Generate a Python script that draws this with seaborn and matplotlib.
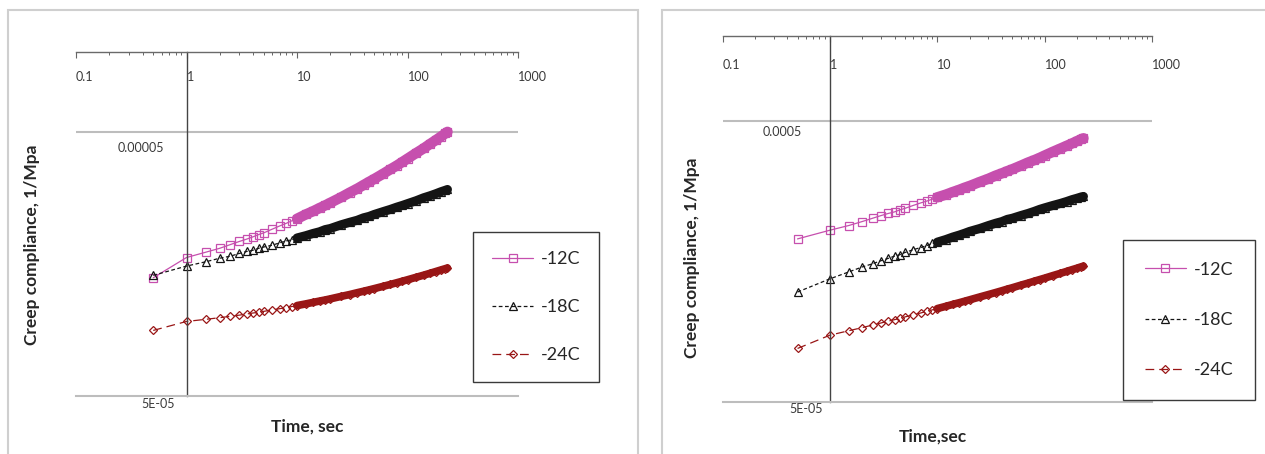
import numpy as np
import pandas as pd
import seaborn as sns
import matplotlib
matplotlib.use("Agg")
import matplotlib.pyplot as plt
from matplotlib.ticker import FixedLocator, NullFormatter
from matplotlib.patches import Rectangle
from matplotlib.transforms import ScaledTranslation

sns.set_style("white")
plt.rcParams['font.family'] = ['Lato', 'DejaVu Sans']

# time of loading, sec
time_s = [0.5, 1, 1.5, 2, 2.5, 3, 3.5, 4, 4.5, 5, 6, 7, 8, 9, 10, 12, 14, 16, 18, 20,
          25, 30, 35, 40, 45, 50, 60, 70, 80, 90, 100, 120, 140, 160, 180, 200, 220, 230]

# left chart, creep compliance in 1e-5 1/MPa
left_12c = [1.40, 1.67, 1.75, 1.81, 1.87, 1.92, 1.96, 2.00, 2.04, 2.07, 2.14, 2.20, 2.25, 2.30,
            2.34, 2.43, 2.50, 2.57, 2.63, 2.69, 2.82, 2.94, 3.04, 3.14, 3.23, 3.31, 3.46, 3.60,
            3.72, 3.84, 3.95, 4.15, 4.32, 4.49, 4.64, 4.78, 4.92, 4.99]
left_18c = [1.43, 1.55, 1.61, 1.66, 1.69, 1.73, 1.76, 1.78, 1.81, 1.83, 1.86, 1.90, 1.93, 1.95,
            1.98, 2.02, 2.06, 2.09, 2.13, 2.15, 2.22, 2.27, 2.31, 2.36, 2.39, 2.43, 2.49, 2.54,
            2.59, 2.63, 2.67, 2.74, 2.81, 2.86, 2.91, 2.96, 3.00, 3.02]
left_24c = [0.885, 0.957, 0.975, 0.989, 1.001, 1.011, 1.021, 1.030, 1.037, 1.045, 1.058, 1.070,
            1.080, 1.090, 1.099, 1.115, 1.130, 1.143, 1.154, 1.165, 1.190, 1.210, 1.229, 1.245,
            1.260, 1.274, 1.299, 1.321, 1.341, 1.359, 1.376, 1.406, 1.432, 1.456, 1.478, 1.498,
            1.516, 1.525]

# right chart, creep compliance in 1e-4 1/MPa
right_12c = [1.90, 2.04, 2.12, 2.19, 2.25, 2.30, 2.34, 2.37, 2.41, 2.44, 2.50, 2.55, 2.59, 2.63,
             2.67, 2.73, 2.79, 2.84, 2.89, 2.93, 3.03, 3.11, 3.19, 3.25, 3.31, 3.36, 3.46, 3.55,
             3.62, 3.69, 3.76, 3.88, 3.98, 4.07, 4.15, 4.23, 4.30, 4.33]
right_18c = [1.23, 1.37, 1.45, 1.51, 1.55, 1.59, 1.62, 1.65, 1.67, 1.70, 1.74, 1.77, 1.80, 1.83,
             1.85, 1.89, 1.93, 1.96, 1.99, 2.02, 2.07, 2.12, 2.16, 2.19, 2.23, 2.25, 2.30, 2.34,
             2.38, 2.42, 2.45, 2.50, 2.54, 2.58, 2.62, 2.65, 2.68, 2.69]
right_24c = [0.775, 0.864, 0.896, 0.919, 0.939, 0.955, 0.969, 0.981, 0.992, 1.003, 1.021, 1.036,
             1.050, 1.063, 1.074, 1.094, 1.112, 1.127, 1.141, 1.154, 1.182, 1.205, 1.225, 1.243,
             1.260, 1.274, 1.301, 1.323, 1.344, 1.362, 1.378, 1.408, 1.433, 1.456, 1.477, 1.495,
             1.513, 1.521]

x_ticks = [0.1, 1, 10, 100, 1000]
x_ticklabels = ['0.1', '1', '10', '100', '1000']

styles = {
    '-12C': dict(color='#c64fae', marker='s', ms=5.5, ls='-', band=7.5),
    '-18C': dict(color='#141414', marker='^', ms=5.5, ls=(0, (3, 2)), band=6.5),
    '-24C': dict(color='#991616', marker='D', ms=4.5, ls=(0, (7, 4)), band=5.5),
}

W, H = 1265, 454
fig = plt.figure(figsize=(W / 100, H / 100), dpi=100)

# panel frames
fig.add_artist(Rectangle((8 / W, -0.02), 630 / W, 1.0 - 10 / H + 0.02, transform=fig.transFigure,
                         fill=False, ec='#cfcfcf', lw=1.5))
fig.add_artist(Rectangle((662 / W, -0.02), 620 / W, 1.0 - 10 / H + 0.02, transform=fig.transFigure,
                         fill=False, ec='#cfcfcf', lw=1.5))


def draw_panel(ax, curves, scale, ylim, ylabels, ylab_shift, xpad, xlabel, ylabel_xy, xlabel_xy,
               legend_xy, legend_kw):
    ax.set_xscale('log')
    ax.set_yscale('log')
    ax.set_xlim(0.1, 1000)
    ax.set_ylim(*ylim)

    for name, vals in curves:
        st = styles[name]
        yv = np.array(vals) * scale
        sns.lineplot(x=time_s, y=yv, ax=ax, color=st['color'], linestyle=st['ls'], linewidth=0.9,
                     marker=st['marker'], markersize=st['ms'], markerfacecolor='none',
                     markeredgecolor=st['color'], markeredgewidth=0.9, label=name)
        # at long times the markers pile up into a solid band
        sns.lineplot(x=time_s[14:], y=yv[14:], ax=ax, color=st['color'], linewidth=st['band'],
                     solid_capstyle='round', legend=False, zorder=3)

    # gridline at upper major value, bottom axis as grey line
    ax.axhline(ylabels[1][0], color='#bdbdbd', lw=1.5, zorder=0)
    ax.spines['right'].set_visible(False)
    ax.spines['bottom'].set_color('#bdbdbd')
    ax.spines['bottom'].set_linewidth(1.5)
    ax.spines['top'].set_color('#6a6a6a')
    ax.spines['top'].set_linewidth(1.0)
    ax.spines['left'].set_position(('data', 1))
    ax.spines['left'].set_color('#444444')
    ax.spines['left'].set_linewidth(1.0)

    # x axis on top, labels drawn below the line
    ax.xaxis.set_ticks_position('top')
    ax.set_xticks(x_ticks)
    ax.set_xticklabels(x_ticklabels)
    ax.xaxis.set_minor_locator(FixedLocator([k * d for d in [0.1, 1, 10, 100] for k in range(2, 10)]))
    ax.xaxis.set_minor_formatter(NullFormatter())
    ax.tick_params(axis='x', which='major', direction='in', length=4, width=0.8, color='#666666',
                   pad=xpad, labelsize=9, labelcolor='#3a3a3a', labeltop=True, labelbottom=False,
                   bottom=False)
    ax.tick_params(axis='x', which='minor', direction='in', length=2.5, width=0.7, color='#666666',
                   bottom=False)
    for lbl in ax.get_xticklabels():
        lbl.set_ha('left')

    # y axis
    base = ylabels[0][0]
    ax.set_yticks([v for v, _ in ylabels])
    ax.set_yticklabels([t for _, t in ylabels])
    ax.yaxis.set_minor_locator(FixedLocator([k * base * m for m in [1, 10] for k in range(2, 10)]))
    ax.yaxis.set_minor_formatter(NullFormatter())
    ax.tick_params(axis='y', which='major', direction='out', length=4, width=0.8, color='#444444',
                   pad=2, labelsize=9, labelcolor='#3a3a3a', right=False)
    ax.tick_params(axis='y', which='minor', direction='out', length=3, width=0.7, color='#444444',
                   right=False)
    for lbl, (dx, dy) in zip(ax.get_yticklabels(), ylab_shift):
        lbl.set_transform(lbl.get_transform() + ScaledTranslation(dx / 100, dy / 100, fig.dpi_scale_trans))

    ax.xaxis.set_label_position('bottom')
    ax.set_xlabel(xlabel, fontsize=12.5, fontweight='bold', color='#262626', va='center')
    ax.xaxis.set_label_coords(*xlabel_xy)
    ax.set_ylabel('Creep compliance, 1/Mpa', fontsize=12.5, fontweight='bold', color='#262626',
                  va='center')
    ax.yaxis.set_label_coords(*ylabel_xy)

    handles, labels = ax.get_legend_handles_labels()
    leg = ax.legend(handles, labels, loc='upper left', bbox_to_anchor=legend_xy,
                    bbox_transform=fig.transFigure, fontsize=13, frameon=True, fancybox=False,
                    edgecolor='#3a3a3a', framealpha=1, handletextpad=0.4, borderaxespad=0,
                    **legend_kw)
    leg.get_frame().set_linewidth(1.0)


axL = fig.add_axes([76 / W, 58 / H, 442 / W, 344 / H])
draw_panel(axL, [('-12C', left_12c), ('-18C', left_18c), ('-24C', left_24c)], 1e-5,
           (5e-6, 1e-4), [(5e-6, '5E-05'), (5e-5, '0.00005')],
           [(-3, -7), (-14, -15)], -22, 'Time, sec',
           ((32 - 76) / 442, (396 - 245) / 344), ((307 - 76) / 442, (396 - 427) / 344),
           (473 / W, 1 - 232 / H), dict(handlelength=2.3, labelspacing=1.78, borderpad=1.05))

axR = fig.add_axes([722.5 / W, 52 / H, 429.5 / W, 366 / H])
draw_panel(axR, [('-12C', right_12c), ('-18C', right_18c), ('-24C', right_24c)], 1e-4,
           (5e-5, 1e-3), [(5e-5, '5E-05'), (5e-4, '0.0005')],
           [(1, -6), (-20, -10)], -25, 'Time,sec',
           ((692 - 722.5) / 429.5, (402 - 258) / 366), ((933 - 722.5) / 429.5, (402 - 437) / 366),
           (1123 / W, 1 - 240 / H), dict(handlelength=2.3, labelspacing=1.9, borderpad=1.2))

fig.savefig('out.png', dpi=100)
